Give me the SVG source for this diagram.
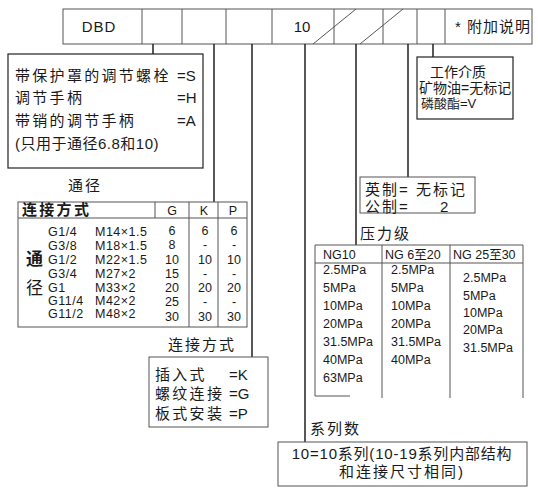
<svg xmlns="http://www.w3.org/2000/svg" width="538" height="495" viewBox="0 0 538 495">
<style>
text{font-family:"Liberation Sans","Noto Sans CJK SC",sans-serif;fill:#1a1a1a}
.cn{font-size:15px;letter-spacing:2px}
.cw{font-size:15px;letter-spacing:2.3px}
.sm{font-size:12.5px}
.row{font-size:12.5px;letter-spacing:0.5px}
.box{fill:none;stroke:#222;stroke-width:1.2}
.thin{fill:none;stroke:#555;stroke-width:1}
.conn line{stroke:#111;stroke-width:1.4}
</style>
<rect width="538" height="495" fill="#fff"/>
<g id="code-row">
<rect class="thin" x="63" y="9" width="469" height="35"/>
<line class="thin" x1="142" y1="9" x2="142" y2="44"/>
<line class="thin" x1="182" y1="9" x2="182" y2="44"/>
<line class="thin" x1="226" y1="9" x2="226" y2="44"/>
<line class="thin" x1="272" y1="9" x2="272" y2="44"/>
<line class="thin" x1="334" y1="9" x2="334" y2="44"/>
<line class="thin" x1="383" y1="9" x2="383" y2="44"/>
<line class="thin" x1="417" y1="9" x2="417" y2="44"/>
<line class="thin" x1="445" y1="9" x2="445" y2="44"/>
<line class="thin" x1="313" y1="44" x2="356" y2="9"/>
<line class="thin" x1="360" y1="44" x2="403" y2="9"/>
<text x="99" y="32" font-size="15" text-anchor="middle" letter-spacing="1">DBD</text>
<text x="302" y="32" font-size="15" text-anchor="middle">10</text>
<text x="455" y="32" font-size="15" letter-spacing="1">* 附加说明</text>
</g>
<g class="conn" id="connectors">
<line x1="153" y1="44" x2="153" y2="54"/>
<line x1="214" y1="44" x2="214" y2="202"/>
<line x1="252" y1="44" x2="252" y2="357"/>
<line x1="305" y1="44" x2="305" y2="442"/>
<line x1="356" y1="44" x2="356" y2="245"/>
<line x1="408" y1="44" x2="408" y2="177"/>
<line x1="433" y1="44" x2="433" y2="57"/>
</g>
<g id="adjust">
<rect class="box" x="8" y="54" width="195" height="114"/>
<text class="cw" x="15" y="81">带保护罩的调节螺栓</text>
<text x="177" y="81" font-size="15">=S</text>
<text class="cw" x="15" y="103">调节手柄</text>
<text x="177" y="103" font-size="15">=H</text>
<text class="cw" x="15" y="126">带销的调节手柄</text>
<text x="177" y="126" font-size="15">=A</text>
<text x="15" y="149" font-size="15" letter-spacing="0.5">(只用于通径6.8和10)</text>
</g>
<g id="medium">
<rect class="box" x="417" y="57" width="96" height="62"/>
<text x="458" y="77" font-size="14" text-anchor="middle">工作介质</text>
<text x="419" y="93" font-size="14">矿物油=无标记</text>
<text x="421" y="108" font-size="13">磷酸酯=V</text>
</g>
<g id="thread">
<rect class="thin" x="360" y="177" width="115" height="36"/>
<text class="cn" x="365" y="195">英制= 无标记</text>
<text class="cn" x="365" y="212">公制=</text>
<text x="440" y="212" font-size="15">2</text>
</g>
<g id="size-table">
<text class="cn" x="68" y="191">通径</text>
<rect class="thin" x="18" y="202" width="229" height="125"/>
<line class="thin" x1="18" y1="218" x2="247" y2="218"/>
<line class="thin" x1="155" y1="202" x2="155" y2="218"/>
<line class="thin" x1="189" y1="202" x2="189" y2="327"/>
<line class="thin" x1="218" y1="202" x2="218" y2="327"/>
<text class="cw" x="22" y="215" font-weight="bold">连接方式</text>
<text class="sm" x="172" y="215" text-anchor="middle">G</text>
<text class="sm" x="204" y="215" text-anchor="middle">K</text>
<text class="sm" x="233" y="215" text-anchor="middle">P</text>
<text x="26" y="265" font-size="17" font-weight="bold">通</text>
<text x="26" y="294" font-size="17">径</text>
<g>
<text class="row" x="48" y="236">G1/4</text><text class="row" x="95" y="236">M14×1.5</text>
<text class="row" x="48" y="250">G3/8</text><text class="row" x="95" y="250">M18×1.5</text>
<text class="row" x="48" y="264">G1/2</text><text class="row" x="95" y="264">M22×1.5</text>
<text class="row" x="48" y="278">G3/4</text><text class="row" x="95" y="278">M27×2</text>
<text class="row" x="48" y="292">G1</text><text class="row" x="95" y="292">M33×2</text>
<text class="row" x="48" y="305">G11/4</text><text class="row" x="95" y="305">M42×2</text>
<text class="row" x="48" y="318">G11/2</text><text class="row" x="95" y="318">M48×2</text>
</g>
<g font-size="12.5" text-anchor="middle">
<text x="172" y="235">6</text><text x="205" y="235">6</text><text x="234" y="235">6</text>
<text x="172" y="249">8</text><text x="205" y="249">-</text><text x="234" y="249">-</text>
<text x="172" y="264">10</text><text x="205" y="264">10</text><text x="234" y="264">10</text>
<text x="172" y="278">15</text><text x="205" y="278">-</text><text x="234" y="278">-</text>
<text x="172" y="292">20</text><text x="205" y="292">20</text><text x="234" y="292">20</text>
<text x="172" y="306">25</text><text x="205" y="306">-</text><text x="234" y="306">-</text>
<text x="172" y="321">30</text><text x="205" y="321">30</text><text x="234" y="321">30</text>
</g>
</g>
<g id="pressure">
<text class="cn" x="360" y="239">压力级</text>
<line class="thin" x1="315" y1="245" x2="523" y2="245"/>
<line class="thin" x1="315" y1="263" x2="523" y2="263"/>
<line class="thin" x1="315" y1="245" x2="315" y2="396"/>
<line class="thin" x1="382" y1="245" x2="382" y2="398"/>
<line class="thin" x1="450" y1="245" x2="450" y2="398"/>
<line class="thin" x1="523" y1="245" x2="523" y2="398"/>
<line class="thin" x1="315" y1="396" x2="350" y2="396"/>
<g font-size="12.5">
<text x="323" y="259">NG10</text>
<text x="385" y="259">NG 6至20</text>
<text x="453" y="259">NG 25至30</text>
<text x="323" y="274">2.5MPa</text>
<text x="323" y="292">5MPa</text>
<text x="323" y="310">10MPa</text>
<text x="323" y="328">20MPa</text>
<text x="323" y="346">31.5MPa</text>
<text x="323" y="364">40MPa</text>
<text x="323" y="382">63MPa</text>
<text x="391" y="274">2.5MPa</text>
<text x="391" y="292">5MPa</text>
<text x="391" y="310">10MPa</text>
<text x="391" y="328">20MPa</text>
<text x="391" y="346">31.5MPa</text>
<text x="391" y="364">40MPa</text>
<text x="463" y="282">2.5MPa</text>
<text x="463" y="300">5MPa</text>
<text x="463" y="317">10MPa</text>
<text x="463" y="334">20MPa</text>
<text x="463" y="352">31.5MPa</text>
</g>
</g>
<g id="connection">
<text class="cn" x="168" y="350">连接方式</text>
<rect class="thin" x="149" y="357" width="119" height="70"/>
<text class="cw" x="155" y="380">插入式</text><text x="229" y="380" font-size="15">=K</text>
<text class="cw" x="155" y="399">螺纹连接</text><text x="229" y="399" font-size="15">=G</text>
<text class="cw" x="155" y="419">板式安装</text><text x="229" y="419" font-size="15">=P</text>
</g>
<g id="series">
<text class="cn" x="310" y="434">系列数</text>
<rect class="thin" x="278" y="442" width="249" height="44"/>
<text x="402" y="459" font-size="15" text-anchor="middle" letter-spacing="0.8">10=10系列(10-19系列内部结构</text>
<text x="402" y="477" font-size="15" text-anchor="middle" letter-spacing="2">和连接尺寸相同)</text>
</g>
</svg>
